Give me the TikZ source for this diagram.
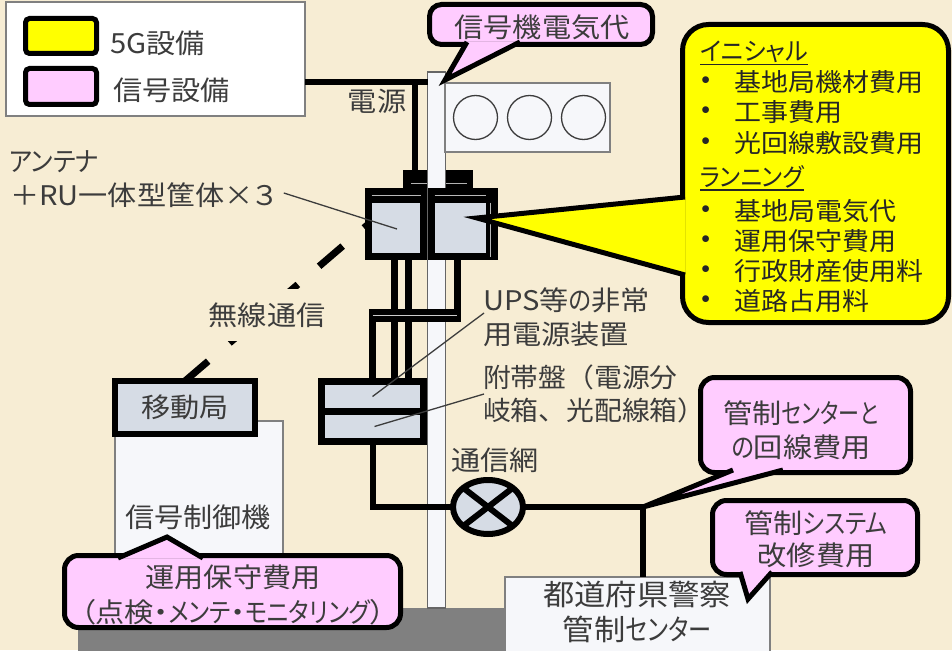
\documentclass[tikz,border=0pt]{standalone}
\usepackage{graphicx}
\usepackage{fontspec}
\setmainfont{Noto Sans CJK JP}[Script=CJK, CharacterWidth=AlternateProportional, FakeStretch=1.08]
\newfontfamily\widepunct{Noto Sans CJK JP}[Script=CJK, FakeStretch=1.05]
\newcommand{\kana}[2][0.72]{\scalebox{#1}[1]{#2}}
\usetikzlibrary{calc,shapes.geometric}

\definecolor{paper}{RGB}{247,237,212}
\definecolor{ink}{RGB}{60,60,60}
\definecolor{fiveg}{RGB}{255,255,0}
\definecolor{sigpink}{RGB}{255,204,255}
\definecolor{metal}{RGB}{214,220,229}
\definecolor{panel}{RGB}{246,247,250}
\definecolor{asphalt}{RGB}{128,128,128}

\tikzset{
  lbl/.style={inner sep=0pt, outer sep=0pt, text=ink, font=\fontsize{27}{34}\selectfont},
  item/.style={lbl, text=black!85, font=\fontsize{25}{30}\selectfont},
  wire/.style={line width=6pt},
  radio/.style={line width=7pt, dash pattern=on 31pt off 28pt, dash phase=25pt},
  leader/.style={draw=ink, line width=1.3pt},
  heavy/.style={draw=black, line width=6pt, fill=metal, inner sep=0pt, outer sep=0pt},
  thinbox/.style={draw=gray, line width=1.5pt, fill=panel, inner sep=0pt, outer sep=0pt},
  tag/.style={draw=black, line width=5pt, rounded corners=14pt, inner sep=0pt, outer sep=0pt},
  tagtip/.style={draw=black, line width=5pt},
}

\begin{document}
\begin{tikzpicture}[x=1pt, y=-1pt]
\path[use as bounding box, fill=paper] (0,0) rectangle (952,650);

% legend
\node[thinbox, fill=white, minimum width=299pt, minimum height=114pt] (legend) at (155.5,59) {};
\node[draw=black, line width=5pt, rounded corners=4pt, fill=fiveg, minimum width=71pt, minimum height=35pt] (key5g) at (61,36) {};
\node[draw=black, line width=5pt, rounded corners=4pt, fill=sigpink, minimum width=71pt, minimum height=36pt] (keySig) at (61,86.5) {};
\node[lbl, anchor=west] (key5gText) at (110,43) {5G設備};
\node[lbl, anchor=west] (keySigText) at (113,90) {信号設備};

% ground, controller, police
\fill[asphalt] (78,608) rectangle (510,652);
\node[thinbox, minimum width=168pt, minimum height=187pt] (ctrl) at (199,514.5) {};
\node[lbl] (ctrlText) at (198,517) {信号制御機};
\node[thinbox, minimum width=265pt, minimum height=80pt] (police) at (637.5,617) {};
\node[lbl, align=center, font=\fontsize{29}{35}\selectfont] (policeText) at (637,612) {都道府県警察\\管制\kana[0.74]{センター}};

% pole and signal head
\node[fill=black, minimum width=70pt, minimum height=20pt, inner sep=0pt, outer sep=0pt] (antB) at (438,180) {};
\draw[gray!60, line width=1pt] ($(antB.west)+(8,3)$) -- ($(antB.east)+(-6,3)$);
\node[draw=gray!80!black, line width=1.2pt, fill=panel, minimum width=18pt, minimum height=536pt, inner sep=0pt, outer sep=0pt] (pole) at (436.5,340) {};
\node[thinbox, minimum width=165pt, minimum height=69pt] (signal) at (527.5,117.5) {};
\foreach \dx in {-52,2,56}
  \draw[ink, line width=1.3pt] ($(signal.center)+(\dx,0)$) circle [radius=22pt];

% mains
\coordinate (mains) at (415,82);
\draw[wire] (legend.east |- mains) -- (pole.west |- mains);
\draw[wire] (mains) -- (mains |- antB.north);
\node[lbl] (mainsText) at (377,101) {電源};

% boxes on the pole
\node[heavy, line width=7pt, minimum width=55pt, minimum height=65pt] (antL) at (396,224) {};
\node[heavy, line width=7pt, minimum width=63pt, minimum height=65pt] (antR) at (463,224) {};
\foreach \a in {antL,antR} {
  \fill (\a.north west) rectangle ($(\a.north east)+(0,11)$);
  \draw[gray!55, line width=1pt] ($(\a.north west)+(3,4)$) -- ($(\a.north east)+(-3,4)$);
}
\fill ($(antR.north east)+(-9,0)$) rectangle (antR.south east);
\draw[gray!55, line width=1pt] ($(antR.north east)+(-4.5,11)$) -- ($(antR.south east)+(-4.5,0)$);

\node[heavy, line width=7pt, minimum width=102pt, minimum height=30pt] (ups) at (372.5,396.5) {};
\node[heavy, line width=7pt, minimum width=102pt, minimum height=30pt] (fuk) at (372.5,426.5) {};

% feeds down to the UPS
\coordinate (feedA) at ($(antL.south)+(-2,0)$);
\coordinate (feedB) at ($(antL.south)+(12,0)$);
\coordinate (feedC) at ($(antR.south)+(-6,0)$);
\coordinate (loop) at ($(ups.north)+(0,-66)$);
\foreach \f in {feedA,feedB}
  \draw[wire, line width=7pt] (\f) -- (\f |- ups.north);
\draw[wire, line width=7pt] (feedC) |- (loop) -- (ups.north);
\draw[line width=13pt] ($(loop)+(-3.5,0)$) -- ($(loop -| feedC)+(3.5,0)$);
\draw[gray!40, line width=1.2pt] (loop) -- (loop -| feedC);

% radio link
\node[heavy, lbl, line width=6pt, minimum width=140pt, minimum height=53pt] (mobile) at (185,407.5) {移動局};
\draw[radio] (antL.west) -- (mobile.north);
\node[lbl, fill=paper, inner sep=13.5pt] (radioText) at (267,315) {無線通信};

% network
\node[heavy, ellipse, minimum width=70pt, minimum height=54pt,
  path picture={\draw[line width=6pt] (path picture bounding box.north west) -- (path picture bounding box.south east)
    (path picture bounding box.south west) -- (path picture bounding box.north east);}] (net) at (488,507) {};
\node[lbl] (netText) at (495,460) {通信網};
\coordinate (hub) at (643,507);
\draw[wire] (fuk.south) |- (net.west);
\draw[wire] (net.east) -- (hub) -- (hub |- police.north);

% labels and leaders
\node[lbl, anchor=west] (antText1) at (9,162) {\kana[0.85]{アンテナ}};
\node[lbl, anchor=west] (antText2) at (10,195) {＋RU一体型筐体×３};
\node[lbl, align=left, anchor=west] (upsText) at (483,317) {UPS等\kana[0.8]{の}非常\\用電源装置};
\node[lbl, align=left, anchor=west, font=\fontsize{26.5}{33}\widepunct] (fukText) at (483,394) {附帯盤（電源分\\岐箱、光配線箱）};
\draw[leader] ($(antText2.east)+(8,-2)$) -- ($(antL.center)+(1,5)$);
\draw[leader] ($(upsText.west)+(1,-4)$) -- (ups.center);
\draw[leader] ($(fukText.west)+(1,0)$) -- ($(fuk.center)+(2,0)$);

% cost tags
\node[tag, fill=sigpink, rounded corners=12pt, minimum width=223pt, minimum height=40pt] (sigCost) at (541,24.5) {};
\coordinate (sigTip) at (445,80);
\filldraw[tagtip, fill=sigpink] ($(sigCost.south west)+(37.5,-2.5)$) -- (sigTip) -- ($(sigCost.south west)+(90.5,-2.5)$);
\node[lbl] (sigText) at (542,27) {信号機電気代};

\node[tag, fill=fiveg, rounded corners=26pt, minimum width=266pt, minimum height=298pt] (fiveGCost) at (815.5,173.5) {};
\coordinate (fiveGTip) at (477,218);
\filldraw[tagtip, fill=fiveg] ($(fiveGCost.north west)+(2.5,172.5)$) -- (fiveGTip) -- ($(fiveGCost.north west)+(2.5,250.5)$);
\node[item, anchor=west] (initHead) at (700,52) {\kana[0.89]{イニシャル}};
\node[item, anchor=west] (runHead) at (700,177) {\kana[0.86]{ランニング}};
\foreach \h in {initHead,runHead}
  \draw[black!85, line width=1.3pt] ($(\h.south west)+(0,1.5)$) -- ($(\h.south east)+(0,1.5)$);
\foreach \y/\t in {82/基地局機材費用, 112/工事費用, 143/光回線敷設費用, 211/基地局電気代, 241/運用保守費用, 271/行政財産使用料, 301/道路占用料} {
  \node[item] (dot\y) at (706,\y) {•};
  \node[item, anchor=west] (cost\y) at (734,\y) {\t};
}

\node[tag, fill=sigpink, minimum width=336pt, minimum height=72pt] (opCost) at (232.5,591.5) {};
\coordinate (opTip) at (167,537);
\filldraw[tagtip, fill=sigpink] ($(opCost.north west)+(53.5,2.5)$) -- (opTip) -- ($(opCost.north west)+(138.5,2.5)$);
\node[lbl, align=center, font=\fontsize{27}{35}\selectfont] (opText) at (233,595) {運用保守費用\\（点検・\kana[0.8]{メンテ}・\kana[0.8]{モニタリング}）};

\node[tag, fill=sigpink, minimum width=210pt, minimum height=95pt] (lineCost) at (805.5,425) {};
\filldraw[tagtip, fill=sigpink] ($(lineCost.south west)+(32.5,-2.5)$) -- (hub) -- ($(lineCost.south west)+(82.5,-2.5)$);
\node[lbl, align=center] (lineText) at (801,430) {管制\kana{センターと}\\\kana[0.8]{の}回線費用};

\node[tag, fill=sigpink, minimum width=205pt, minimum height=74pt] (sysCost) at (815,537.5) {};
\coordinate (sysTip) at (748,599);
\filldraw[tagtip, fill=sigpink] ($(sysCost.south west)+(27.5,-2.5)$) -- (sysTip) -- ($(sysCost.south west)+(59.5,-2.5)$);
\node[lbl, align=center, font=\fontsize{27}{32}\selectfont] (sysText) at (816,539) {管制\kana[0.8]{システム}\\改修費用};
\end{tikzpicture}
\end{document}
